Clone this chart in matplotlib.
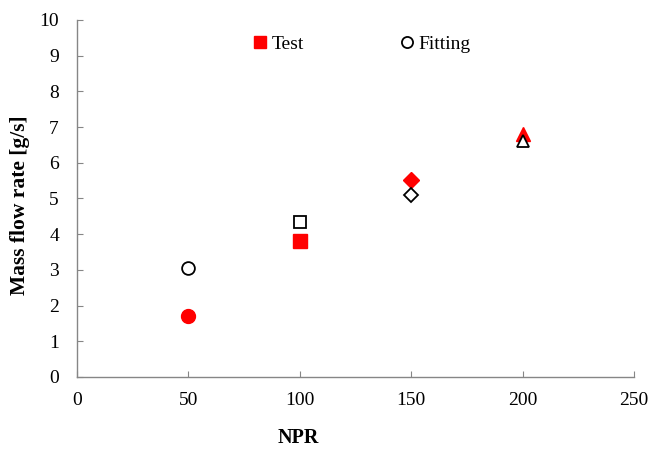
import matplotlib.pyplot as plt
from matplotlib.lines import Line2D

plt.rcParams['font.family'] = ['Liberation Serif', 'DejaVu Serif']

npr = [50, 100, 150, 200]
test_flow = [1.71, 3.81, 5.52, 6.81]
fit_flow = [3.04, 4.34, 5.10, 6.61]
markers = ['o', 's', 'D', '^']
sizes = [10, 9.5, 8, 9.5]

fig = plt.figure(figsize=(6.51, 4.49), dpi=100)
ax = fig.add_axes([0.1183, 0.1604, 0.8556, 0.7951])

for x, yt, yf, m, s in zip(npr, test_flow, fit_flow, markers, sizes):
    ax.plot(x, yt, marker=m, color='red', markersize=s, linestyle='none')
    ax.plot(x, yf, marker=m, markerfacecolor='white', markeredgecolor='black',
            markeredgewidth=1.3, markersize=s * 0.92, linestyle='none')

ax.set_xlim(0, 250)
ax.set_ylim(0, 10)
ax.set_xticks(range(0, 251, 50))
ax.set_yticks(range(0, 11, 1))
for side in ['top', 'right']:
    ax.spines[side].set_visible(False)
for side in ['left', 'bottom']:
    ax.spines[side].set_color('#868686')
    ax.spines[side].set_linewidth(1.0)
ax.tick_params(direction='in', length=4, color='#868686', labelsize=14)
ax.tick_params(axis='x', pad=11)
ax.tick_params(axis='y', pad=13)

ax.set_xlabel('NPR', fontsize=14.5, fontweight='bold', va='center')
ax.xaxis.set_label_coords(0.397, -0.17)
ax.set_ylabel('Mass flow rate [g/s]', fontsize=15.5, fontweight='bold', va='center')
ax.yaxis.set_label_coords(-0.102, 0.48)

handles = [Line2D([], [], marker='s', color='red', linestyle='none', markersize=9),
           Line2D([], [], marker='o', markerfacecolor='white', markeredgecolor='black',
                  markeredgewidth=1.3, linestyle='none', markersize=8)]
ax.legend(handles, ['Test', 'Fitting'], ncol=2, frameon=False, fontsize=14,
          loc='center left', bbox_to_anchor=(0.297, 0.933), borderpad=0,
          handletextpad=0.2, columnspacing=4.9, handlelength=0.8)

fig.savefig('out.png', dpi=100)
